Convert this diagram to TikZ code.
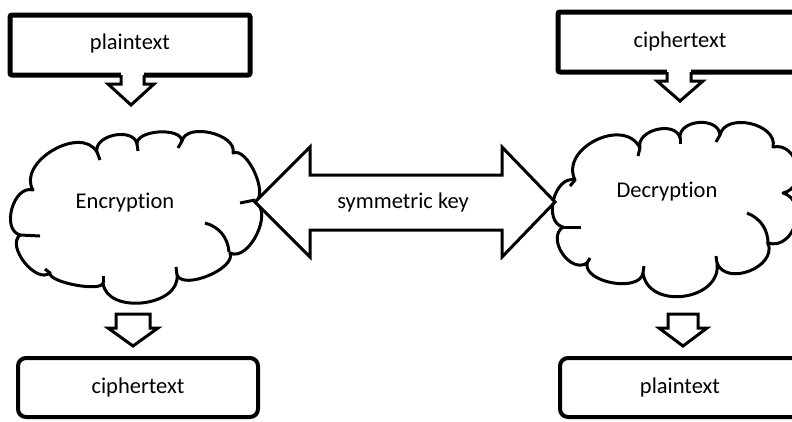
\documentclass[tikz,border=0pt]{standalone}
\usepackage{fontspec}
\setmainfont[Ligatures=NoCommon]{Carlito}
\begin{document}
\begin{tikzpicture}[x=1pt,y=-1pt,
  lbl/.style={font=\fontsize{22.5}{26}\selectfont, inner sep=0pt},
  topbox/.style={draw, line width=5pt, rounded corners=2pt},
  botbox/.style={draw, line width=4pt, rounded corners=8pt},
  cloudline/.style={draw, line width=3pt, line join=round, fill=white},
  tick/.style={line width=3pt},
  blockarrow/.style={draw, line width=3pt, line join=miter, fill=white},
  puff/.style={bend left=90, looseness=#1}]
\useasboundingbox (0,0) rectangle (792,421);
\clip (0,0) rectangle (792,421);
% boxes
\draw[topbox] (10,15) rectangle (250,75);
\node[lbl] (pt1) at (130,43) {plaintext};
\draw[topbox] (558,12) rectangle (805,72);
\node[lbl] (ct1) at (680,41) {ciphertext};
\draw[botbox] (18,358) rectangle (258,417);
\node[lbl] (ct2) at (138,387) {ciphertext};
\draw[botbox] (560,358) rectangle (805,417);
\node[lbl] (pt2) at (680,387) {plaintext};
% top block arrows
\fill[white] (121,70) rectangle (144,80);
\draw[blockarrow] (121,75) -- (121,84) -- (108,84) -- (131,105) -- (154,84) -- (144,84) -- (144,75);
\fill[white] (667,67) rectangle (691,78);
\draw[blockarrow] (667,72) -- (667,81) -- (657,81) -- (680,101) -- (703,81) -- (691,81) -- (691,72);
% bottom block arrows
\draw[blockarrow] (116,314) -- (150,314) -- (150,328) -- (158,328) -- (133,346) -- (108,328) -- (116,328) -- cycle;
\draw[blockarrow] (668,314) -- (698,314) -- (698,328) -- (707,328) -- (683,346) -- (659,328) -- (668,328) -- cycle;
% Encryption cloud
\path[cloudline] (20,235) to[puff=1.1] (33,190) to[puff=1.1] (97,152) to[puff=1.1] (137,144)
  to[puff=0.8] (182,141) to[puff=0.95] (233,153) to[puff=0.75] (255,202) to[puff=0.95] (230,253)
  to[puff=0.75] (177,275) to[puff=1.1] (103,283) to[puff=0.45] (50,273) to[puff=0.95] (20,235) -- cycle;
\draw[tick] (205,223) to[bend left=35] (229,252);
\draw[tick] (20,235) -- (40,236);
\draw[tick] (240,203) -- (255,200);
\draw[tick] (97,152) -- (100,160);
\draw[tick] (137,144) -- (138,151);
\draw[tick] (182,141) -- (178,148);
\draw[tick] (177,275) -- (176,267);
\draw[tick] (103,283) -- (103,276);
\draw[tick] (50,273) -- (45,269);
\node[lbl] (enc) at (125,203) {Encryption};
% Decryption cloud
\path[cloudline] (563,227) to[puff=1.12] (575,180) to[puff=1.25] (640,148) to[puff=1.15] (680,138)
  to[puff=1.2] (720,135) to[puff=1.12] (773,147) to[puff=1.4] (783,193) to[puff=1.35] (768,243)
  to[puff=1.2] (717,263) to[puff=1.3] (643,273) to[puff=0.9] (587,263) to[puff=1.2] (563,227) -- cycle;
\draw[tick] (747,213) to[bend left=35] (768,245);
\draw[tick] (563,227) -- (581,227);
\draw[tick] (575,180) -- (570,186);
\draw[tick] (640,148) -- (638,156);
\draw[tick] (680,138) -- (680,144);
\draw[tick] (720,135) -- (716,142);
\draw[tick] (717,263) -- (716,256);
\draw[tick] (643,273) -- (644,266);
\draw[tick] (587,263) -- (590,258);
\node[lbl] (dec) at (667,192) {Decryption};
% double arrow
\draw[line width=3pt, line join=miter, fill=white] (255,202) -- (310,147) -- (310,175) -- (502,175) -- (502,147)
  -- (555,202) -- (502,257) -- (502,230) -- (310,230) -- (310,257) -- cycle;
\node[lbl] (key) at (403,202) {symmetric key};
\end{tikzpicture}
\end{document}
